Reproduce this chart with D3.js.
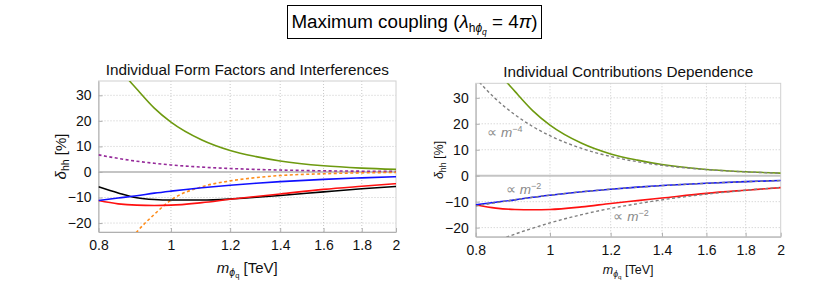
<!DOCTYPE html>
<html><head><meta charset="utf-8">
<script src="https://cdn.jsdelivr.net/npm/d3@7"></script>
<style>body{margin:0;background:#fff;} svg{font-family:"Liberation Sans",Arial,sans-serif;}</style>
</head><body><svg id="c" width="830" height="284"></svg>
<script>
// ---- data ----
const masses = [0.8, 0.85, 0.9, 0.95, 1.0, 1.1, 1.2, 1.3, 1.4, 1.6, 1.8, 2.0];
const xTicks = [0.8, 1, 1.2, 1.4, 1.6, 1.8, 2];
const xTickLabels = ["0.8", "1", "1.2", "1.4", "1.6", "1.8", "2"];
const yTicks = [-20, -10, 0, 10, 20, 30];
const yTickLabels = ["\u221220", "\u221210", "0", "10", "20", "30"];
const greenVals  = [53, 41, 32.5, 25, 19.5, 12.5, 8.4, 6.0, 4.3, 2.4, 1.5, 1.0];
const purpleVals = [6.7, 5.3, 4.2, 3.4, 2.75, 1.9, 1.35, 1.0, 0.75, 0.45, 0.3, 0.2];
const orangeVals = [-45, -33, -23.5, -16.6, -11, -5.8, -3.5, -2.2, -1.4, -0.7, -0.35, -0.18];
const blackVals  = [-5.8, -8.2, -10.1, -10.8, -11.0, -11.0, -10.6, -9.9, -9.2, -7.8, -6.6, -5.7];
const redVals    = [-11.2, -12.5, -13.0, -13.1, -13.0, -12.0, -10.7, -9.6, -8.6, -6.8, -5.6, -4.6];
const blueVals   = [-11.2, -10.2, -9.3, -8.3, -7.5, -6.2, -5.2, -4.4, -3.8, -2.9, -2.3, -1.85];
const fitM4Vals  = [37.6, 29.5, 23.5, 18.9, 15.4, 10.5, 7.4, 5.4, 4.0, 2.35, 1.47, 0.96];
const fitM2aVals = [-11.7, -10.4, -9.26, -8.3, -7.5, -6.2, -5.2, -4.44, -3.83, -2.93, -2.31, -1.875];
const fitM2bVals = [-28.4, -25.2, -22.5, -20.2, -18.2, -15.0, -12.6, -10.8, -9.3, -7.1, -5.6, -4.55];

const svg = d3.select("#c");
const C = {green:"#6e9a10", purple:"#962a9a", orange:"#ff8c1a", black:"#000", red:"#ff1010", blue:"#1010ff", fit:"#808080"};

// Title
svg.append("rect").attr("x",287.5).attr("y",5.5).attr("width",254).attr("height",33)
  .attr("fill","none").attr("stroke","#000").attr("stroke-width",1);
const tt = svg.append("text").attr("x",414.5).attr("y",28).attr("text-anchor","middle").attr("font-size",18.8);
tt.append("tspan").text("Maximum coupling (");
tt.append("tspan").attr("font-style","italic").text("\u03bb");
tt.append("tspan").attr("font-size",12).attr("dy",4).text("h");
tt.append("tspan").attr("font-size",12).attr("font-style","italic").text("\u03d5");
tt.append("tspan").attr("font-size",8.5).attr("font-style","italic").attr("dy",3).text("q");
tt.append("tspan").attr("dy",-7).text(" = 4");
tt.append("tspan").attr("font-style","italic").text("\u03c0");
tt.append("tspan").text(")");

function panel(cfg){
  const x = d3.scaleLog().domain([0.8,2]).range([cfg.x0,cfg.x1]);
  const y = d3.scaleLinear().domain([-23.5,35.6]).range([cfg.y1,cfg.y0]);
  const g = svg.append("g");
  const id = "clip"+cfg.id;
  svg.append("clipPath").attr("id",id).append("rect")
    .attr("x",cfg.x0).attr("y",cfg.y0).attr("width",cfg.x1-cfg.x0).attr("height",cfg.y1-cfg.y0);
  // grid
  g.selectAll(".gx").data(xTicks.slice(1,-1)).join("line")
    .attr("x1",d=>x(d)).attr("x2",d=>x(d)).attr("y1",cfg.y0).attr("y2",cfg.y1)
    .attr("stroke","#c8c8c8").attr("stroke-width",1).attr("stroke-dasharray","1,2");
  g.selectAll(".gy").data(yTicks.filter(d=>d!==0)).join("line")
    .attr("x1",cfg.x0).attr("x2",cfg.x1).attr("y1",d=>y(d)).attr("y2",d=>y(d))
    .attr("stroke","#c8c8c8").attr("stroke-width",1).attr("stroke-dasharray","1,2");
  // frame
  g.append("rect").attr("x",cfg.x0).attr("y",cfg.y0).attr("width",cfg.x1-cfg.x0).attr("height",cfg.y1-cfg.y0)
    .attr("fill","none").attr("stroke","#d0d0d0").attr("stroke-width",1);
  // zero line
  g.append("line").attr("x1",cfg.x0).attr("x2",cfg.x1).attr("y1",y(0)).attr("y2",y(0))
    .attr("stroke","#c4c4c4").attr("stroke-width",2);
  // axes
  const ax = d3.axisBottom(x).tickValues(xTicks).tickFormat((d,i)=>xTickLabels[i]).tickSizeInner(-4).tickSizeOuter(0).tickPadding(8);
  const ay = d3.axisLeft(y).tickValues(yTicks).tickFormat((d,i)=>yTickLabels[i]).tickSizeInner(-4).tickSizeOuter(0).tickPadding(7);
  const gax = g.append("g").attr("transform",`translate(0,${cfg.y1})`).call(ax);
  const gay = g.append("g").attr("transform",`translate(${cfg.x0},0)`).call(ay);
  [gax,gay].forEach(a=>{
    a.select(".domain").attr("stroke","#b0b0b0");
    a.selectAll(".tick line").attr("stroke","#b0b0b0");
    a.selectAll("text").attr("font-size",cfg.tick).attr("fill","#111").attr("font-family","Liberation Sans, Arial, sans-serif");
  });
  // title
  svg.append("text").attr("x",(cfg.x0+cfg.x1)/2).attr("y",cfg.ty).attr("text-anchor","middle")
    .attr("font-size",15.3).attr("fill","#111").text(cfg.title);
  // y label
  const yl = svg.append("text").attr("transform",`translate(${cfg.ylx},${(cfg.y0+cfg.y1)/2}) rotate(-90)`)
    .attr("text-anchor","middle").attr("font-size",cfg.lab).attr("fill","#111");
  yl.append("tspan").attr("font-style","italic").text("\u03b4");
  yl.append("tspan").attr("font-size",cfg.lab*0.7).attr("dy",3).text("hh");
  yl.append("tspan").attr("dy",-3).text(" [%]");
  // x label
  const xl = svg.append("text").attr("x",(cfg.x0+cfg.x1)/2).attr("y",cfg.xly).attr("text-anchor","middle")
    .attr("font-size",cfg.lab).attr("fill","#111");
  xl.append("tspan").attr("font-style","italic").text("m");
  xl.append("tspan").attr("font-style","italic").attr("font-size",cfg.lab*0.7).attr("dy",3).text("\u03d5");
  xl.append("tspan").attr("font-size",cfg.lab*0.5).attr("dy",2).text("q");
  xl.append("tspan").attr("dy",-5).text(" [TeV]");
  const line = d3.line().x((d,i)=>x(masses[i])).y(d=>y(d)).curve(d3.curveMonotoneX);
  const lg = svg.append("g").attr("clip-path",`url(#${id})`);
  cfg.series.forEach(s=>{
    lg.append("path").attr("d",line(s.v)).attr("fill","none").attr("stroke",s.c)
      .attr("stroke-width",s.w||1.6).attr("stroke-dasharray",s.dash||null);
  });
  return {x,y};
}

panel({id:"L", x0:98.5, x1:396, y0:81, y1:232, tick:14, lab:15, ylx:66, xly:273, ty:75,
  title:"Individual Form Factors and Interferences",
  series:[
    {v:purpleVals,c:C.purple,dash:"3,2.5",w:1.6},
    {v:orangeVals,c:C.orange,dash:"3,2.5",w:1.6},
    {v:greenVals,c:C.green},
    {v:blackVals,c:C.black},
    {v:redVals,c:C.red},
    {v:blueVals,c:C.blue}
  ]});

const R = panel({id:"R", x0:475.7, x1:780.7, y0:83.3, y1:236.7, tick:14, lab:12.5, ylx:443, xly:274, ty:77,
  title:"Individual Contributions Dependence",
  series:[
    {v:greenVals,c:C.green},
    {v:redVals,c:C.red},
    {v:blueVals,c:C.blue},
    {v:fitM4Vals,c:C.fit,dash:"3,2.5",w:1.4},
    {v:fitM2aVals,c:C.fit,dash:"3,2.5",w:1.4},
    {v:fitM2bVals,c:C.fit,dash:"3,2.5",w:1.4}
  ]});

// fit labels
function propLabel(px,py,exp){
  const t = svg.append("text").attr("x",px).attr("y",py).attr("font-size",13.5).attr("fill","#8a8a8a");
  t.append("tspan").text("\u221d ");
  t.append("tspan").attr("font-style","italic").text("m");
  t.append("tspan").attr("font-size",9).attr("dy",-5).text(exp);
}
propLabel(R.x(0.828), R.y(15.0), "\u22124");
propLabel(R.x(0.876), R.y(-7.0), "\u22122");
propLabel(R.x(1.21), R.y(-17.4), "\u22122");
</script></body></html>
